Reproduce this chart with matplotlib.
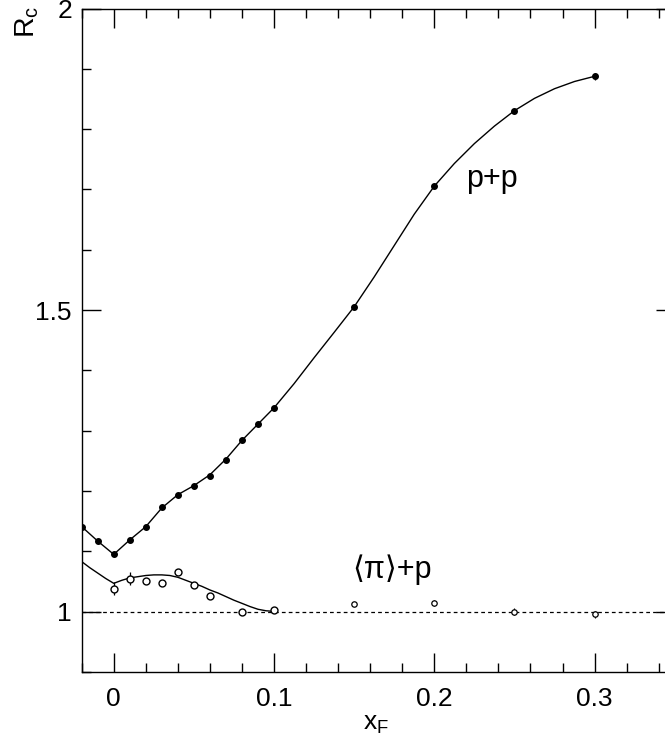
import numpy as np
import matplotlib
matplotlib.use("Agg")
import matplotlib.pyplot as plt
from matplotlib.ticker import MultipleLocator

plt.rcParams['font.family'] = ['Liberation Sans', 'DejaVu Sans']
plt.rcParams['mathtext.fontset'] = 'custom'
plt.rcParams['mathtext.rm'] = 'Liberation Sans'
plt.rcParams['mathtext.it'] = 'Liberation Sans'

## p+p data (filled points)
pp_x = [-0.02, -0.01, 0.0, 0.01, 0.02, 0.03, 0.04, 0.05, 0.06, 0.07, 0.08, 0.09, 0.10,
        0.15, 0.20, 0.25, 0.30]
pp_y = [1.141, 1.117, 1.095, 1.119, 1.141, 1.173, 1.194, 1.209, 1.225, 1.252, 1.285, 1.311, 1.338,
        1.5055, 1.7055, 1.8306, 1.8876]
pp_err = [0, 0, 0, 0, 0, 0, 0, 0, 0, 0, 0, 0, 0,
          0, 0, 0.002, 0.006]

## <pi>+p data (open points), low xF and high xF sets
pip_x1 = [0.0, 0.01, 0.02, 0.03, 0.04, 0.05, 0.06, 0.08, 0.10]
pip_y1 = [1.038, 1.055, 1.0515, 1.0476, 1.066, 1.045, 1.0266, 0.9995, 1.003]
pip_e1 = [0.011, 0.010, 0.0, 0.0, 0.005, 0.0, 0.0, 0.002, 0.0]
pip_x2 = [0.15, 0.20, 0.25, 0.30]
pip_y2 = [1.013, 1.015, 1.000, 0.9955]
pip_e2 = [0.002, 0.005, 0.006, 0.006]

## fitted curves
fit_pp_x = [-0.02, -0.01, 0.0, 0.01, 0.02, 0.03, 0.04, 0.05, 0.06, 0.07, 0.08, 0.09, 0.10,
            0.1125, 0.125, 0.1375, 0.15, 0.1625, 0.175, 0.1875, 0.20, 0.2125, 0.225, 0.2375,
            0.25, 0.2625, 0.275, 0.2875, 0.30]
fit_pp_y = [1.141, 1.117, 1.095, 1.119, 1.141, 1.172, 1.194, 1.209, 1.227, 1.253, 1.284, 1.311, 1.338,
            1.378, 1.421, 1.463, 1.5055, 1.555, 1.607, 1.659, 1.7055, 1.743, 1.776, 1.805,
            1.8306, 1.851, 1.867, 1.879, 1.8876]
fit_pip_x = [-0.02, -0.015, -0.01, -0.005, 0.0, 0.005, 0.01, 0.015, 0.02, 0.025, 0.03, 0.035,
             0.04, 0.045, 0.05, 0.055, 0.06, 0.065, 0.07, 0.075, 0.08, 0.085, 0.09, 0.095, 0.10]
fit_pip_y = [1.083, 1.073, 1.064, 1.055, 1.047, 1.052, 1.056, 1.058, 1.060, 1.061, 1.061, 1.060,
             1.057, 1.052, 1.047, 1.042, 1.036, 1.031, 1.025, 1.019, 1.0138, 1.0085, 1.004, 1.0015, 1.0005]

fs = 19
fig = plt.figure(figsize=(6.65, 7.38), dpi=100)
ax = fig.add_axes([81.7/665, 1-672/738, 593.0/665, (672-8.5)/738])

ax.axhline(1.0, color='k', lw=0.9, ls=(0, (3, 2.5)), zorder=1)
ax.plot(fit_pp_x, fit_pp_y, 'k-', lw=1.0, zorder=2)
ax.plot(fit_pip_x, fit_pip_y, 'k-', lw=1.0, zorder=2)

ax.errorbar(pp_x, pp_y, yerr=pp_err, fmt='o', color='k', ms=4.0, elinewidth=0.9,
            capsize=0, zorder=3)
ax.errorbar(pip_x1, pip_y1, yerr=pip_e1, fmt='o', mfc='white', mec='k', ecolor='k', ms=5.0,
            mew=1.0, elinewidth=0.9, capsize=0, zorder=3)
ax.errorbar(pip_x2, pip_y2, yerr=pip_e2, fmt='o', mfc='white', mec='k', ecolor='k', ms=3.9,
            mew=0.9, elinewidth=0.8, capsize=0, zorder=3)

ax.text(0.2196, 1.704, 'p+p', fontsize=22, ha='left', va='baseline')
ax.text(0.1489, 1.0565, '\u27e8\u03c0\u27e9+p', fontsize=22, ha='left', va='baseline')

ax.set_xlim(-0.02, 0.35)
ax.set_ylim(0.9, 2.0)
ax.xaxis.set_minor_locator(MultipleLocator(0.02))
ax.yaxis.set_minor_locator(MultipleLocator(0.1))
ax.set_xticks([0, 0.1, 0.2, 0.3])
ax.set_xticklabels(['0', '0.1', '0.2', '0.3'])
ax.set_yticks([1, 1.5, 2])
ax.set_yticklabels(['1', '1.5', '2'])
ax.tick_params(which='both', direction='in', top=True, right=True, width=1.0, labelsize=fs)
ax.tick_params(which='major', length=14)
ax.tick_params(which='minor', length=6.5)
ax.tick_params(axis='x', which='major', pad=11)
ax.tick_params(axis='y', which='major', pad=7)
for s in ax.spines.values():
    s.set_linewidth(1.0)

fig.text(27/665, 1-22/738, r'$\mathregular{R_c}$', fontsize=20.5, rotation=90,
         ha='center', va='center')
fig.text(376/665, 1-724/738, r'$\mathregular{x_F}$', fontsize=fs, ha='center', va='center')

plt.savefig("out.png", dpi=100)
